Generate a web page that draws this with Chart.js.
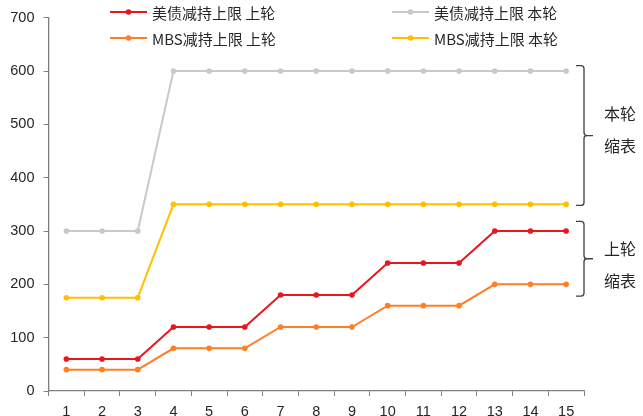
<!DOCTYPE html>
<html>
<head>
<meta charset="utf-8">
<script src="https://cdn.jsdelivr.net/npm/chart.js@4/dist/chart.umd.min.js"></script>
<style>
  html, body { margin: 0; padding: 0; background: #fff; }
  #wrap { width: 643px; height: 416px; position: relative; }
</style>
</head>
<body>
<div id="wrap"><canvas id="c"></canvas></div>
<script>
// Months since the start of balance-sheet runoff
const categories = ['1','2','3','4','5','6','7','8','9','10','11','12','13','14','15'];

// Monthly runoff caps (USD bn)
const treasuryPrev = [60,60,60,120,120,120,180,180,180,240,240,240,300,300,300];
const treasuryCurr = [300,300,300,600,600,600,600,600,600,600,600,600,600,600,600];
const mbsPrev      = [40,40,40,80,80,80,120,120,120,160,160,160,200,200,200];
const mbsCurr      = [175,175,175,350,350,350,350,350,350,350,350,350,350,350,350];

const seriesNames = ['美债减持上限 上轮', '美债减持上限 本轮', 'MBS减持上限 上轮', 'MBS减持上限 本轮'];
const yTicks = [0,100,200,300,400,500,600,700];

// Braces grouping the two rounds (value ranges on the y axis, plus where the caption sits)
const braceRanges = [
  { text: ['本轮', '缩表'], from: 610, to: 348, labelAt: 490 },
  { text: ['上轮', '缩表'], from: 318, to: 178, labelAt: 237 }
];

const colors = ['#e8161e', '#c9c9c9', '#ff7f27', '#ffc000'];
const tickFont = { family: '"Liberation Sans", Arial, sans-serif', size: 14.5 };
const cjkFont = '"Noto Sans CJK SC", "Noto Sans", sans-serif';

function ds(i, data) {
  return {
    label: seriesNames[i],
    data: data,
    borderColor: colors[i],
    backgroundColor: colors[i],
    borderWidth: 2,
    pointRadius: 2.8,
    pointHoverRadius: 2.8,
    pointBorderWidth: 0,
    tension: 0
  };
}

// Two-column legend drawn across the top of the plot
const legendPlugin = {
  id: 'gridLegend',
  afterDraw(chart) {
    const ctx = chart.ctx;
    const slots = [
      { idx: 0, x: 110, y: 12 },
      { idx: 2, x: 110, y: 38 },
      { idx: 1, x: 392, y: 12 },
      { idx: 3, x: 392, y: 38 }
    ];
    ctx.save();
    ctx.font = '15px ' + cjkFont;
    ctx.textBaseline = 'middle';
    ctx.textAlign = 'left';
    slots.forEach(s => {
      const d = chart.data.datasets[s.idx];
      ctx.strokeStyle = d.borderColor;
      ctx.lineWidth = 2;
      ctx.beginPath();
      ctx.moveTo(s.x, s.y);
      ctx.lineTo(s.x + 37, s.y);
      ctx.stroke();
      ctx.fillStyle = d.borderColor;
      ctx.beginPath();
      ctx.arc(s.x + 18.5, s.y, 2.8, 0, Math.PI * 2);
      ctx.fill();
      ctx.fillStyle = '#262626';
      ctx.fillText(d.label, s.x + 42, s.y + 1);
    });
    ctx.restore();
  }
};

// Curly braces with captions on the right side
const bracePlugin = {
  id: 'braces',
  afterDraw(chart) {
    const ctx = chart.ctx;
    const y = chart.scales.y;
    ctx.save();
    ctx.strokeStyle = '#404040';
    ctx.lineWidth = 1.3;
    braceRanges.forEach(b => {
      const top = y.getPixelForValue(b.from);
      const bot = y.getPixelForValue(b.to);
      const mid = (top + bot) / 2;
      const x0 = 576, x1 = 584, x2 = 593, r = 3;
      ctx.beginPath();
      ctx.moveTo(x0, top);
      ctx.lineTo(x1 - r, top);
      ctx.quadraticCurveTo(x1, top, x1, top + r);
      ctx.lineTo(x1, mid - r);
      ctx.quadraticCurveTo(x1, mid, x1 + r, mid);
      ctx.lineTo(x2, mid);
      ctx.moveTo(x1 + r, mid);
      ctx.quadraticCurveTo(x1, mid, x1, mid + r);
      ctx.lineTo(x1, bot - r);
      ctx.quadraticCurveTo(x1, bot, x1 - r, bot);
      ctx.lineTo(x0, bot);
      ctx.stroke();
      const ly = y.getPixelForValue(b.labelAt);
      ctx.fillStyle = '#262626';
      ctx.font = '16px ' + cjkFont;
      ctx.textAlign = 'left';
      ctx.textBaseline = 'middle';
      ctx.fillText(b.text[0], 604, ly - 16);
      ctx.fillText(b.text[1], 604, ly + 16);
    });
    ctx.restore();
  }
};

new Chart(document.getElementById('c'), {
  type: 'line',
  data: {
    labels: categories,
    datasets: [ds(0, treasuryPrev), ds(1, treasuryCurr), ds(2, mbsPrev), ds(3, mbsCurr)]
  },
  options: {
    responsive: true,
    maintainAspectRatio: false,
    animation: false,
    layout: { padding: { top: 17, right: 59, left: 0, bottom: 0 } },
    plugins: { legend: { display: false }, tooltip: { enabled: false } },
    scales: {
      x: {
        offset: true,
        grid: { display: true, drawOnChartArea: false, drawTicks: true, tickLength: 5, color: '#808080', offset: true },
        border: { display: true, color: '#808080', width: 1.3 },
        ticks: { color: '#262626', font: tickFont, padding: 7, maxRotation: 0, autoSkip: false },
        afterFit(s) { s.height = 25; }
      },
      y: {
        min: 0, max: 700,
        afterBuildTicks(s) { s.ticks = yTicks.map(v => ({ value: v })); },
        grid: { display: true, drawOnChartArea: false, drawTicks: true, tickLength: 5, color: '#808080' },
        border: { display: true, color: '#808080', width: 1.3 },
        ticks: { color: '#262626', font: tickFont, padding: 9 },
        afterFit(s) { s.width = 48.5; }
      }
    }
  },
  plugins: [legendPlugin, bracePlugin]
});
</script>
</body>
</html>
